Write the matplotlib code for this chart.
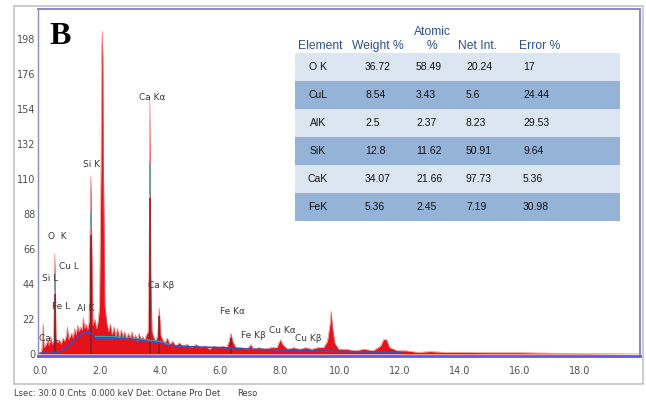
import matplotlib
matplotlib.use("Agg")
import matplotlib.pyplot as plt
from matplotlib.patches import Rectangle
import numpy as np

# EDS spectrum (keV, counts)
energy_kev = [0.00, 0.06, 0.10, 0.13, 0.20, 0.26, 0.30, 0.35, 0.40, 0.45, 0.49, 0.53, 0.58, 0.64,
              0.70, 0.76, 0.82, 0.88, 0.91, 0.95, 1.00, 1.05, 1.10, 1.15, 1.20, 1.25, 1.30, 1.35,
              1.40, 1.44, 1.48, 1.53, 1.58, 1.63, 1.66, 1.69, 1.72, 1.76, 1.82, 1.88, 1.94, 1.98,
              2.03, 2.05, 2.07, 2.09, 2.11, 2.16, 2.22, 2.28, 2.34, 2.40, 2.46, 2.52, 2.58, 2.64,
              2.70, 2.76, 2.82, 2.88, 2.94, 3.00, 3.06, 3.12, 3.18, 3.24, 3.30, 3.36, 3.42, 3.48,
              3.54, 3.60, 3.63, 3.66, 3.69, 3.73, 3.80, 3.86, 3.92, 3.97, 4.02, 4.08, 4.16, 4.24,
              4.32, 4.42, 4.52, 4.64, 4.76, 4.90, 5.05, 5.20, 5.35, 5.50, 5.65, 5.80, 5.95, 6.10,
              6.22, 6.30, 6.36, 6.42, 6.52, 6.70, 6.90, 7.03, 7.10, 7.30, 7.50, 7.70, 7.90, 7.96,
              8.02, 8.08, 8.25, 8.45, 8.65, 8.85, 9.05, 9.25, 9.45, 9.58, 9.66, 9.70, 9.74, 9.82,
              9.95, 10.2, 10.5, 10.8, 11.1, 11.35, 11.45, 11.55, 11.65, 11.9, 12.2, 12.6, 13.0,
              13.5, 14.0, 15.0, 16.0, 17.0, 18.0, 20.0]
counts = [0, 3, 19, 4, 6, 9, 5, 11, 6, 9, 63, 10, 7, 9,
          6, 10, 8, 12, 17, 9, 11, 13, 10, 16, 12, 18, 14, 17,
          15, 23, 16, 19, 15, 20, 70, 112, 70, 18, 22, 16, 21, 30,
          120, 187, 203, 187, 120, 30, 20, 14, 19, 12, 17, 11, 16, 10,
          15, 11, 14, 9, 13, 10, 14, 9, 12, 8, 13, 9, 11, 8,
          12, 14, 50, 160, 50, 14, 10, 8, 12, 29, 12, 9, 7, 10,
          6, 8, 5, 7, 5, 6, 4, 6, 4, 5, 3, 5, 4, 5,
          4, 8, 13, 8, 4, 4, 3, 6, 3, 4, 3, 4, 4, 7,
          9, 6, 3, 4, 3, 4, 3, 4, 4, 8, 18, 27, 18, 7,
          3, 3, 2, 3, 2, 5, 9, 9, 4, 2, 2, 1, 1.5,
          1, 1, 0.8, 0.8, 0.5, 0.3, 0]

# fitted background
bg_kev = [0.0, 0.4, 0.7, 0.9, 1.1, 1.3, 1.45, 1.6, 1.75, 1.9, 2.2, 2.7, 3.2, 3.6, 4.0, 4.5,
          5.0, 6.0, 7.0, 8.0, 9.0, 10.0, 11.0, 12.0]
bg_counts = [0.5, 0.5, 1.5, 4, 8, 11, 13, 14, 12, 9.5, 9.5, 9.5, 9, 8, 7, 5,
             4.5, 4, 3, 2.5, 2, 1.5, 1.2, 1]

# dark cores and teal marks inside the main peaks
core_kev = [0.49, 1.69, 3.66, 3.97, 6.36]
core_top = [38, 75, 98, 24, 10]
teal_lo = [40, 80, 100, 0, 0]
teal_hi = [46, 90, 120, 0, 0]

# peak labels
peak_names = ["Ca Kα", "Si K", "O  K", "Cu L", "Si L", "Ca Kβ", "Fe L", "Al K", "Ca L",
              "Fe Kα", "Fe Kβ", "Cu Kα", "Cu Kβ"]
peak_kev = [3.73, 1.73, 0.57, 0.97, 0.33, 4.03, 0.70, 1.53, 0.30, 6.43, 7.10, 8.07, 8.93]
peak_cnt = [161.6, 118.9, 73.6, 55.3, 47.5, 42.8, 29.6, 28.3, 9.4, 27.0, 11.3, 14.5, 10.0]

# quantification table
tbl_header = ["Element", "Weight %", "Atomic\n%", "Net Int.", "Error %"]
tbl_element = ["O K", "CuL", "AlK", "SiK", "CaK", "FeK"]
tbl_weight = ["36.72", "8.54", "2.5", "12.8", "34.07", "5.36"]
tbl_atomic = ["58.49", "3.43", "2.37", "11.62", "21.66", "2.45"]
tbl_netint = ["20.24", "5.6", "8.23", "50.91", "97.73", "7.19"]
tbl_error = ["17", "24.44", "29.53", "9.64", "5.36", "30.98"]

xticks = np.arange(0, 20, 2.0)
yticks = [0, 22, 44, 66, 88, 110, 132, 154, 176, 198]

W, H = 646, 400
fig = plt.figure(figsize=(6.46, 4.0), dpi=100)

ax = fig.add_axes([38 / W, 1 - 356 / H, (640 - 38) / W, (356 - 9) / H])
ax.fill_between(energy_kev, counts, 0, color="#e5121b", lw=0, zorder=2)
ax.plot(energy_kev, counts, color="#f07070", lw=0.4, zorder=2)
ax.vlines(core_kev, 0, core_top, color="#7a2222", lw=1.1, zorder=3)
ax.vlines(core_kev, teal_lo, teal_hi, color="#4aa8b0", lw=1.1, zorder=3)
ax.plot(bg_kev, bg_counts, color="#3f4fb8", lw=1.2, zorder=3)
ax.plot([1.85, 2.3, 3.0, 3.5, 4.0, 4.3], [11, 11, 10.5, 9, 8, 6], color="#3aa0b0", lw=0.8, zorder=3)

for name, e, c in zip(peak_names, peak_kev, peak_cnt):
    ax.text(e, c, name, ha="center", va="center", fontsize=6.5, color="#3a3a3a", zorder=4)

ax.set_xlim(-0.07, 20.0)
ax.set_ylim(-1.3, 217)
ax.set_xticks(xticks)
ax.set_xticklabels(["%.1f" % t for t in xticks], fontsize=7, color="#505050")
ax.set_yticks(yticks)
ax.set_yticklabels([str(t) for t in yticks], fontsize=7, color="#505050")
ax.tick_params(axis="both", length=0, pad=7)
ax.tick_params(axis="y", pad=2)
for side in ["left", "top", "right"]:
    ax.spines[side].set_color("#8c8cc8")
ax.spines["left"].set_linewidth(1.0)
ax.spines["top"].set_linewidth(1.5)
ax.spines["right"].set_linewidth(1.5)
ax.spines["bottom"].set_color("#5c5ce0")
ax.spines["bottom"].set_linewidth(2.0)

# overlay in pixel coordinates for frame, table and captions
ov = fig.add_axes([0, 0, 1, 1], zorder=5)
ov.set_xlim(0, W)
ov.set_ylim(H, 0)
ov.axis("off")
ov.add_patch(Rectangle((14, 6), 629, 378, fill=False, edgecolor="#c4c4c4", lw=1.2))
ov.text(49, 44, "B", fontsize=23, fontweight="bold", family="Liberation Serif",
        color="black", ha="left", va="baseline")

row_top, row_h = 53, 28
for i in range(len(tbl_element)):
    color = "#dce6f2" if i % 2 == 0 else "#95b3d7"
    ov.add_patch(Rectangle((295, row_top + i * row_h), 325, row_h, color=color, lw=0))

head_x = [320, 378, 432, 478, 540]
for txt, x in zip(tbl_header, head_x):
    lines = txt.split("\n")
    for k, line in enumerate(lines):
        y = 46 - 14 * (len(lines) - 1 - k)
        ov.text(x, y, line, ha="center", va="center", fontsize=8.7, color="#2f4f8f",
                family="Liberation Sans")

for i in range(len(tbl_element)):
    y = row_top + i * row_h + row_h / 2
    ov.text(318, y, tbl_element[i], ha="center", va="center", fontsize=7.5,
            family="Liberation Sans", color="#111111")
    for x, col in zip([365, 416, 466, 523], [tbl_weight, tbl_atomic, tbl_netint, tbl_error]):
        ov.text(x, y, col[i], ha="left", va="center", fontsize=7.5,
                family="Liberation Sans", color="#111111")

ov.text(14, 393, "Lsec: 30.0 0 Cnts  0.000 keV Det: Octane Pro Det", fontsize=6,
        color="#404040", ha="left", va="center")
ov.text(237, 393, "Reso", fontsize=6, color="#404040", ha="left", va="center")

plt.savefig("out.png", dpi=100)
